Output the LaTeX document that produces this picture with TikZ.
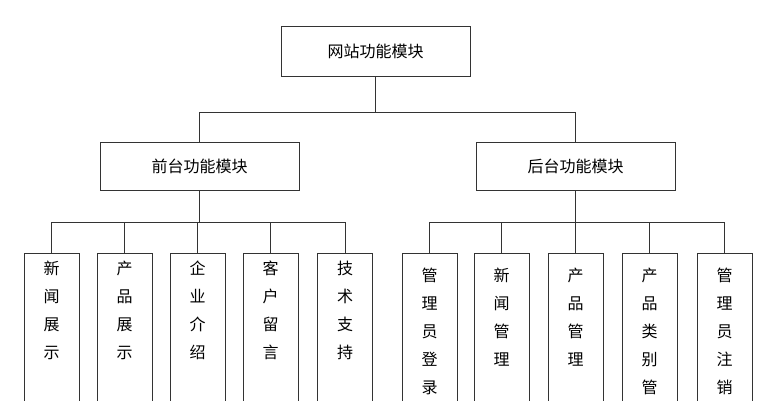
\documentclass[tikz,border=0pt]{standalone}
\usepackage{fontspec}
\setmainfont{Noto Sans CJK SC}
\tikzset{
  modbox/.style={draw=black!80,line width=0.8pt,minimum height=50pt,font=\fontsize{16}{18}\selectfont,inner sep=0pt},
  leafbox/.style={draw=black!80,line width=0.8pt,minimum width=55pt,minimum height=170pt,anchor=north,inner sep=0pt},
  leaftext/.style={anchor=north,align=center,font=\fontsize{16}{28}\selectfont,inner sep=0pt},
  link/.style={line width=0.8pt,draw=black!80}
}
\begin{document}
\begin{tikzpicture}[x=1pt,y=-1pt]
  \useasboundingbox (0,0) rectangle (763,400);
  \clip (0,0) rectangle (763,400);
  \fill[white] (0,0) rectangle (763,400);
  % top level
  \node[modbox,minimum width=189pt] (root) at (375.5,51.5) {网站功能模块};
  \node[modbox,minimum width=199pt,minimum height=48pt] (front) at (199.5,166) {前台功能模块};
  \node[modbox,minimum width=199pt,minimum height=48pt] (back) at (575.5,166) {后台功能模块};
  \draw[link] (root.south) -- (375.5,112) -| (front.north);
  \draw[link] (375.5,112) -| (back.north);
  % front leaves
  \foreach \name/\x/\txt in {fa/51.5/新\\闻\\展\\示, fb/124.5/产\\品\\展\\示, fc/197.5/企\\业\\介\\绍, fd/270.5/客\\户\\留\\言, fe/345/技\\术\\支\\持}{
    \node[leafbox] (\name) at (\x,253) {};
    \node[leaftext] (\name t) at (\x,261) {\txt};
    \draw[link] (\name.north) -- (\x,222);
  }
  \draw[link] (fa.north |- 0,222) -- (fe.north |- 0,222);
  \draw[link] (front.south) -- (front.south |- 0,222);
  % back leaves
  \foreach \name/\x/\txt in {ba/429.5/管\\理\\员\\登\\录, bb/501.5/新\\闻\\管\\理, bc/575.5/产\\品\\管\\理, bd/649.5/产\\品\\类\\别\\管\\理, be/724.5/管\\理\\员\\注\\销}{
    \node[leafbox] (\name) at (\x,253) {};
    \node[leaftext] (\name t) at (\x,268) {\txt};
    \draw[link] (\name.north) -- (\x,222);
  }
  \draw[link] (ba.north |- 0,222) -- (be.north |- 0,222);
  \draw[link] (back.south) -- (back.south |- 0,222);
\end{tikzpicture}
\end{document}
